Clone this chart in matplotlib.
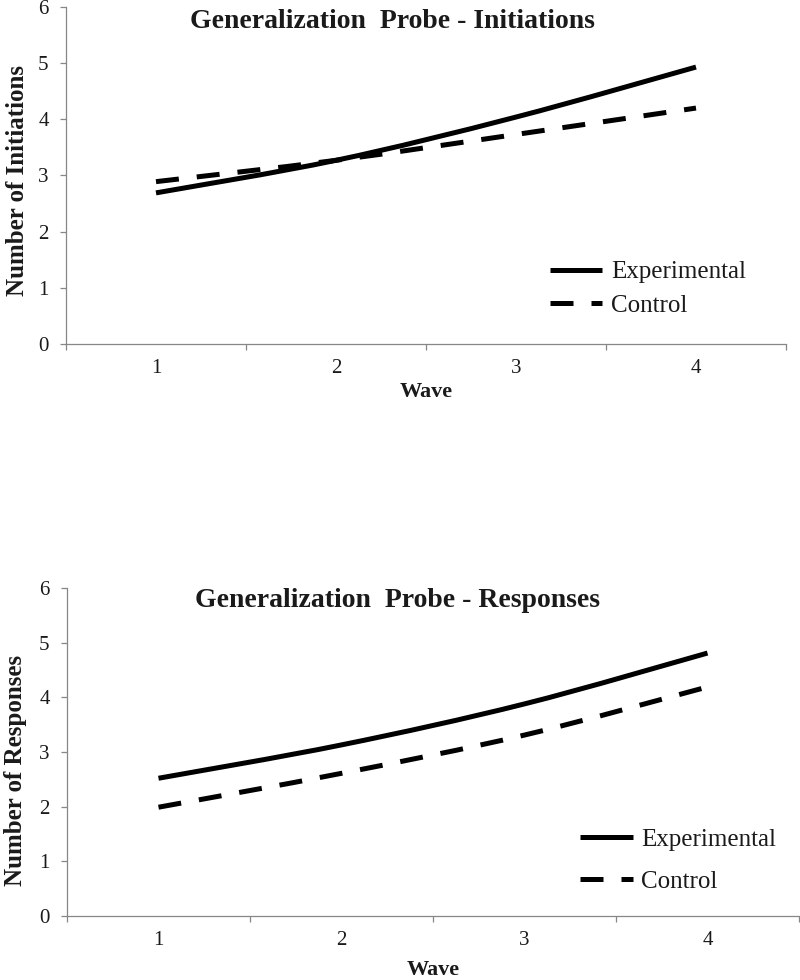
import matplotlib
matplotlib.use("Agg")
import matplotlib.pyplot as plt
from matplotlib.path import Path
from matplotlib.patches import PathPatch
from matplotlib.lines import Line2D
import numpy as np

plt.rcParams['font.family'] = ['Liberation Serif', 'DejaVu Serif']

waves = [1, 2, 3, 4]
wave_labels = ['1', '2', '3', '4']
y_ticks = [0, 1, 2, 3, 4, 5, 6]

init_experimental = [2.69, 3.27, 4.04, 4.93]
init_control = [2.89, 3.27, 3.73, 4.20]
resp_experimental = [2.52, 3.13, 3.88, 4.81]
resp_control = [1.99, 2.61, 3.31, 4.19]

titles = ['Generalization  Probe - Initiations', 'Generalization  Probe - Responses']
ylabels = ['Number of Initiations', 'Number of Responses']
series_names = ['Experimental', 'Control']

LW = 3.6
DASH = (0, (4.6, 3.6))
SPINE = '#878787'
TEXT = '#1a1a1a'


def smooth_path(xs, ys):
    """Excel-style smoothed line: cubic Bezier through the data points."""
    pts = np.column_stack([xs, ys]).astype(float)
    n = len(pts)
    verts = [pts[0]]
    codes = [Path.MOVETO]
    for i in range(n - 1):
        p0 = pts[i - 1] if i > 0 else pts[i]
        p1 = pts[i]
        p2 = pts[i + 1]
        p3 = pts[i + 2] if i + 2 < n else pts[i + 1]
        c1 = p1 + (p2 - p0) / 6.0
        c2 = p2 - (p3 - p1) / 6.0
        verts += [c1, c2, p2]
        codes += [Path.CURVE4] * 3
    return Path(verts, codes)


fig = plt.figure(figsize=(8, 9.8), dpi=100)

panels = [
    dict(rect=[0.0825, 0.649, 0.900, 0.3439], exp=init_experimental, ctl=init_control,
         title=titles[0], ylabel=ylabels[0], title_pos=(0.454, 0.938),
         ylab=(-0.068, 0.484), xlab=(0.5, -0.112),
         leg=(0.672, 0.163), labelspacing=0.45),
    dict(rect=[0.08375, 0.0653, 0.915, 0.3347], exp=resp_experimental, ctl=resp_control,
         title=titles[1], ylabel=ylabels[1], title_pos=(0.452, 0.942),
         ylab=(-0.0697, 0.445), xlab=(0.5, -0.134),
         leg=(0.701, 0.168), labelspacing=0.78),
]

for p in panels:
    ax = fig.add_axes(p['rect'])
    ax.set_xlim(0.5, 4.5)
    ax.set_ylim(0, 6)

    ax.add_patch(PathPatch(smooth_path(waves, p['exp']), fill=False, edgecolor='black',
                           linewidth=LW, capstyle='butt', joinstyle='round'))
    ax.add_patch(PathPatch(smooth_path(waves, p['ctl']), fill=False, edgecolor='black',
                           linewidth=LW, linestyle=DASH, capstyle='butt', joinstyle='round'))

    for s in ['top', 'right']:
        ax.spines[s].set_visible(False)
    for s in ['left', 'bottom']:
        ax.spines[s].set_color(SPINE)
        ax.spines[s].set_linewidth(0.9)

    ax.set_yticks(y_ticks)
    ax.set_yticklabels([str(v) for v in y_ticks])
    ax.tick_params(axis='y', direction='out', length=4.5, width=0.9, color=SPINE,
                   labelsize=15, labelcolor=TEXT, pad=8)

    ax.set_xticks(waves)
    ax.set_xticklabels(wave_labels)
    ax.set_xticks([0.5, 1.5, 2.5, 3.5, 4.5], minor=True)
    ax.tick_params(axis='x', which='major', length=0, labelsize=15, labelcolor=TEXT, pad=11)
    ax.tick_params(axis='x', which='minor', direction='out', length=4, width=0.9, color=SPINE)

    ax.text(p['title_pos'][0], p['title_pos'][1], p['title'], transform=ax.transAxes,
            ha='center', va='baseline', fontsize=20, fontweight='bold', color=TEXT)

    ax.set_ylabel(p['ylabel'], fontsize=18, fontweight='bold', color=TEXT, va='center')
    ax.yaxis.set_label_coords(*p['ylab'])
    ax.set_xlabel('Wave', fontsize=16, fontweight='bold', color=TEXT, va='top')
    ax.xaxis.set_label_coords(*p['xlab'])

    handles = [Line2D([], [], color='black', linewidth=LW, solid_capstyle='butt'),
               Line2D([], [], color='black', linewidth=LW, linestyle=DASH, dash_capstyle='butt')]
    ax.legend(handles, series_names, loc='center left', bbox_to_anchor=p['leg'],
              frameon=False, fontsize=18, handlelength=2.1, handletextpad=0.35,
              borderpad=0, borderaxespad=0, labelspacing=p['labelspacing'],
              labelcolor=TEXT)

fig.savefig('out.png', dpi=100)
